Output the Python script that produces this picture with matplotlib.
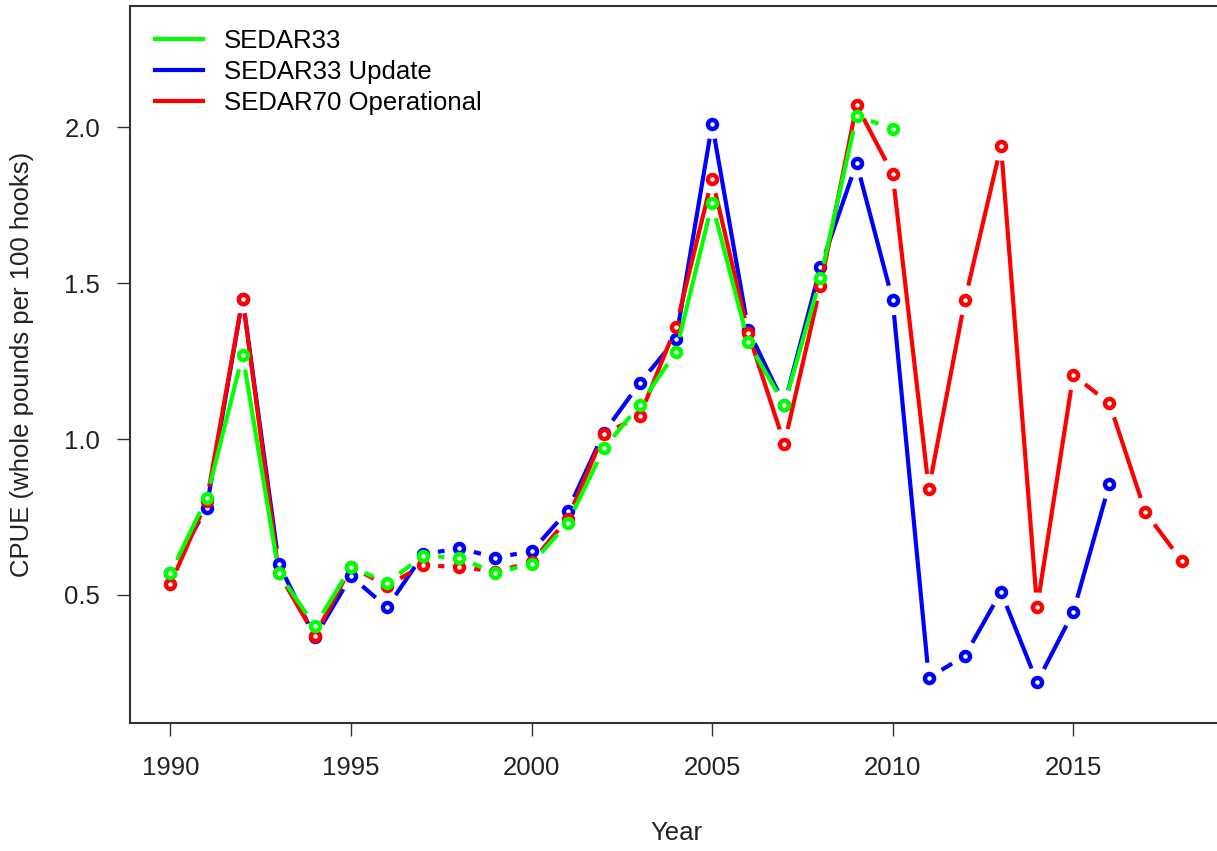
import numpy as np
import matplotlib.pyplot as plt

# CPUE series (whole pounds per 100 hooks)
years_s33 = list(range(1990, 2011))
cpue_s33 = [0.57, 0.81, 1.27, 0.57, 0.40, 0.59, 0.54, 0.625, 0.62, 0.57, 0.60,
            0.73, 0.97, 1.11, 1.28, 1.755, 1.31, 1.11, 1.515, 2.035, 1.995]

years_upd = list(range(1990, 2017))
cpue_upd = [0.57, 0.78, 1.45, 0.60, 0.365, 0.56, 0.46, 0.63, 0.65, 0.62, 0.64,
            0.77, 1.02, 1.18, 1.32, 2.01, 1.35, 1.11, 1.55, 1.885, 1.445,
            0.235, 0.305, 0.51, 0.22, 0.445, 0.855]

years_s70 = list(range(1990, 2019))
cpue_s70 = [0.535, 0.80, 1.45, 0.57, 0.37, 0.59, 0.53, 0.595, 0.59, 0.575, 0.605,
            0.745, 1.015, 1.075, 1.36, 1.835, 1.34, 0.985, 1.49, 2.07, 1.85,
            0.84, 1.445, 1.94, 0.46, 1.205, 1.115, 0.765, 0.61]

series_names = ["SEDAR33", "SEDAR33 Update", "SEDAR70 Operational"]
series_colors = ["#00ff00", "#0000ff", "#ff0000"]

plt.rcParams['font.family'] = ['Liberation Sans', 'DejaVu Sans']
fs = 18.5

fig = plt.figure(figsize=(12.17, 8.51), dpi=100)
ax = fig.add_axes([130 / 1217, 1 - 723 / 851, 1092 / 1217, 717 / 851])
ax.set_xlim(1988.88, 2019.12)
ax.set_ylim(0.0897, 2.388)


def gapped_line(x, y, gap_px=15):
    # R style type="b": segments stop short of each point
    pts = ax.transData.transform(np.column_stack([x, y]))
    inv = ax.transData.inverted()
    xs, ys = [], []
    for p0, p1 in zip(pts[:-1], pts[1:]):
        d = p1 - p0
        n = np.hypot(*d)
        if n <= 2 * gap_px:
            continue
        u = d / n
        a = inv.transform(p0 + u * gap_px)
        b = inv.transform(p1 - u * gap_px)
        xs += [a[0], b[0], np.nan]
        ys += [a[1], b[1], np.nan]
    return xs, ys


data = [(years_s33, cpue_s33), (years_upd, cpue_upd), (years_s70, cpue_s70)]
draw_order = [1, 2, 0]
for z, i in enumerate(draw_order):
    x, y = data[i]
    col = series_colors[i]
    gx, gy = gapped_line(x, y)
    ax.plot(gx, gy, color=col, lw=3, solid_capstyle='butt', zorder=2 + z)
    ax.plot(x, y, ls='none', marker='o', ms=6.5, mfc='white', mec=col,
            mew=3.2, zorder=2 + z)

# legend with plain line handles
handles = [plt.Line2D([], [], color=c, lw=3) for c in series_colors]
ax.legend(handles, series_names, loc='upper left', frameon=False,
          bbox_to_anchor=(0.0229, 0.968), borderpad=0, borderaxespad=0,
          handlelength=1.87, handletextpad=0.82, labelspacing=0.28,
          fontsize=fs)

ax.set_xticks([1990, 1995, 2000, 2005, 2010, 2015])
ax.set_yticks([0.5, 1.0, 1.5, 2.0])
ax.set_yticklabels(["0.5", "1.0", "1.5", "2.0"])
ax.tick_params(direction='out', length=9.5, width=1, color='#333333',
               labelcolor='#222222', labelsize=fs)
ax.tick_params(axis='x', pad=14)
ax.tick_params(axis='y', pad=12)
for s in ax.spines.values():
    s.set_linewidth(1.5)
    s.set_color('#333333')

ax.set_xlabel("Year", color='#222222', fontsize=fs)
ax.set_ylabel("CPUE (whole pounds per 100 hooks)", color='#222222', fontsize=fs)
ax.xaxis.set_label_coords(0.5 * (130 + 1222) / 1217, 1 - 833 / 851, transform=fig.transFigure)
ax.yaxis.set_label_coords(22 / 1217, 1 - 364.5 / 851, transform=fig.transFigure)
ax.xaxis.label.set_va('center')
ax.yaxis.label.set_va('center')

fig.savefig("out.png", dpi=100)
